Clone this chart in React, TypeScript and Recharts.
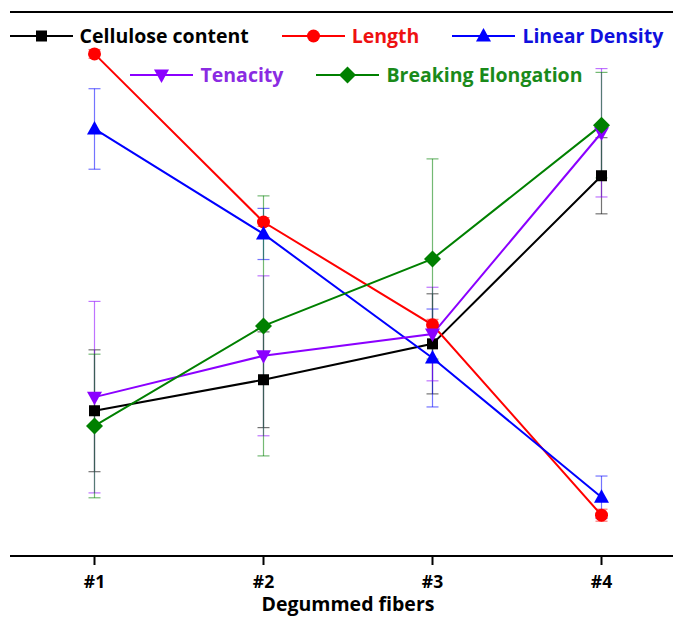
import {
  LineChart,
  Line,
  XAxis,
  YAxis,
  ErrorBar,
  Legend,
  ReferenceLine,
} from "recharts";

const fibers = ["#1", "#2", "#3", "#4"];
const cellulose = [26.7, 32.4, 39.0, 69.9];
const celluloseErr = [11.2, 8.8, 9.2, 7.0];
const lengthVals = [92.3, 61.4, 42.5, 7.5];
const lengthErr = [0.8, 0.8, 1.0, 1.1];
const linearDensity = [78.5, 59.2, 36.4, 10.8];
const linearDensityErr = [7.4, 4.7, 9.0, 3.9];
const tenacity = [29.2, 36.8, 40.8, 77.8];
const tenacityErr = [17.6, 14.7, 8.6, 11.8];
const elongation = [23.9, 42.3, 54.6, 79.2];
const elongationErr = [13.2, 23.9, 18.4, 9.7];

const data = fibers.map((name, i) => ({
  name,
  cellulose: cellulose[i],
  celluloseErr: celluloseErr[i],
  length: lengthVals[i],
  lengthErr: lengthErr[i],
  density: linearDensity[i],
  densityErr: linearDensityErr[i],
  tenacity: tenacity[i],
  tenacityErr: tenacityErr[i],
  elongation: elongation[i],
  elongationErr: elongationErr[i],
}));

const FONT = "'Open Sans', sans-serif";

type Shape = "square" | "circle" | "triangle" | "triangleDown" | "diamond";

const series: {
  key: string;
  label: string;
  color: string;
  text: string;
  shape: Shape;
}[] = [
  { key: "cellulose", label: "Cellulose content", color: "#000000", text: "#000000", shape: "square" },
  { key: "length", label: "Length", color: "#ff0000", text: "#ee1111", shape: "circle" },
  { key: "density", label: "Linear Density", color: "#0000ff", text: "#1010dd", shape: "triangle" },
  { key: "tenacity", label: "Tenacity", color: "#8b00ff", text: "#8a2be2", shape: "triangleDown" },
  { key: "elongation", label: "Breaking Elongation", color: "#008000", text: "#1a8a1a", shape: "diamond" },
];

function Marker({ cx, cy, shape, color }: { cx: number; cy: number; shape: Shape; color: string }) {
  if (cx == null || cy == null) return null;
  switch (shape) {
    case "square":
      return <rect x={cx - 5.5} y={cy - 5.5} width={11} height={11} fill={color} />;
    case "circle":
      return <circle cx={cx} cy={cy} r={6.5} fill={color} />;
    case "triangle":
      return <polygon points={`${cx},${cy - 8} ${cx + 7.5},${cy + 5.5} ${cx - 7.5},${cy + 5.5}`} fill={color} />;
    case "triangleDown":
      return <polygon points={`${cx},${cy + 8} ${cx + 7.5},${cy - 5.5} ${cx - 7.5},${cy - 5.5}`} fill={color} />;
    case "diamond":
      return <polygon points={`${cx},${cy - 8.5} ${cx + 8.5},${cy} ${cx},${cy + 8.5} ${cx - 8.5},${cy}`} fill={color} />;
  }
}

function LegendItem({ s }: { s: (typeof series)[number] }) {
  return (
    <div style={{ display: "flex", alignItems: "center" }}>
      <svg width={63} height={20}>
        <line x1={0} y1={10} x2={63} y2={10} stroke={s.color} strokeWidth={2} />
        <Marker cx={31.5} cy={10} shape={s.shape} color={s.color} />
      </svg>
      <span style={{ marginLeft: 7, color: s.text }}>{s.label}</span>
    </div>
  );
}

function renderLegend() {
  const rowStyle = {
    display: "flex",
    justifyContent: "center",
    gap: 33,
    height: 39,
    alignItems: "center",
  } as const;
  return (
    <div style={{ fontFamily: FONT, fontWeight: 700, fontSize: 19.5, width: 673 }}>
      <div style={rowStyle}>
        {series.slice(0, 3).map((s) => (
          <LegendItem key={s.key} s={s} />
        ))}
      </div>
      <div style={{ ...rowStyle, paddingLeft: 40 }}>
        {series.slice(3).map((s) => (
          <LegendItem key={s.key} s={s} />
        ))}
      </div>
    </div>
  );
}

export default function App() {
  return (
    <div
      style={{
        position: "absolute",
        left: 0,
        top: 0,
        width: 673,
        height: 617,
        overflow: "hidden",
        background: "#fff",
      }}
    >
      <LineChart
        width={700}
        height={617}
        data={data}
        margin={{ top: 12, right: 14, bottom: 0, left: 10 }}
      >
        <XAxis
          dataKey="name"
          height={61}
          padding={{ left: 84.5, right: 84.5 }}
          axisLine={{ stroke: "#000", strokeWidth: 2 }}
          tickLine={{ stroke: "#000", strokeWidth: 2 }}
          tickSize={9}
          tickMargin={11}
          tick={{ fill: "#000", fontSize: 17.5, fontWeight: 700, fontFamily: FONT }}
          label={{
            value: "Degummed fibers",
            position: "insideBottom",
            offset: 6,
            fill: "#000",
            fontSize: 19.5,
            fontWeight: 700,
            fontFamily: FONT,
          }}
        />
        <YAxis
          width={0}
          domain={[0, 100]}
          tick={false}
          tickLine={false}
          axisLine={{ stroke: "#000", strokeWidth: 2 }}
        />
        <ReferenceLine y={100} stroke="#000" strokeWidth={2} />
        <Legend
          layout="horizontal"
          verticalAlign="middle"
          align="center"
          content={renderLegend}
          wrapperStyle={{ position: "absolute", top: 16, left: 0, width: 673 }}
        />
        {series.map((s) => (
          <Line
            key={s.key}
            dataKey={s.key}
            name={s.label}
            stroke={s.color}
            strokeWidth={2}
            isAnimationActive={false}
            dot={(p: any) => (
              <Marker key={`${s.key}-${p.index}`} cx={p.cx} cy={p.cy} shape={s.shape} color={s.color} />
            )}
            activeDot={false}
          >
            <ErrorBar
              dataKey={`${s.key}Err`}
              width={6}
              stroke={s.color}
              strokeOpacity={0.55}
              strokeWidth={1.2}
            />
          </Line>
        ))}
      </LineChart>
    </div>
  );
}
